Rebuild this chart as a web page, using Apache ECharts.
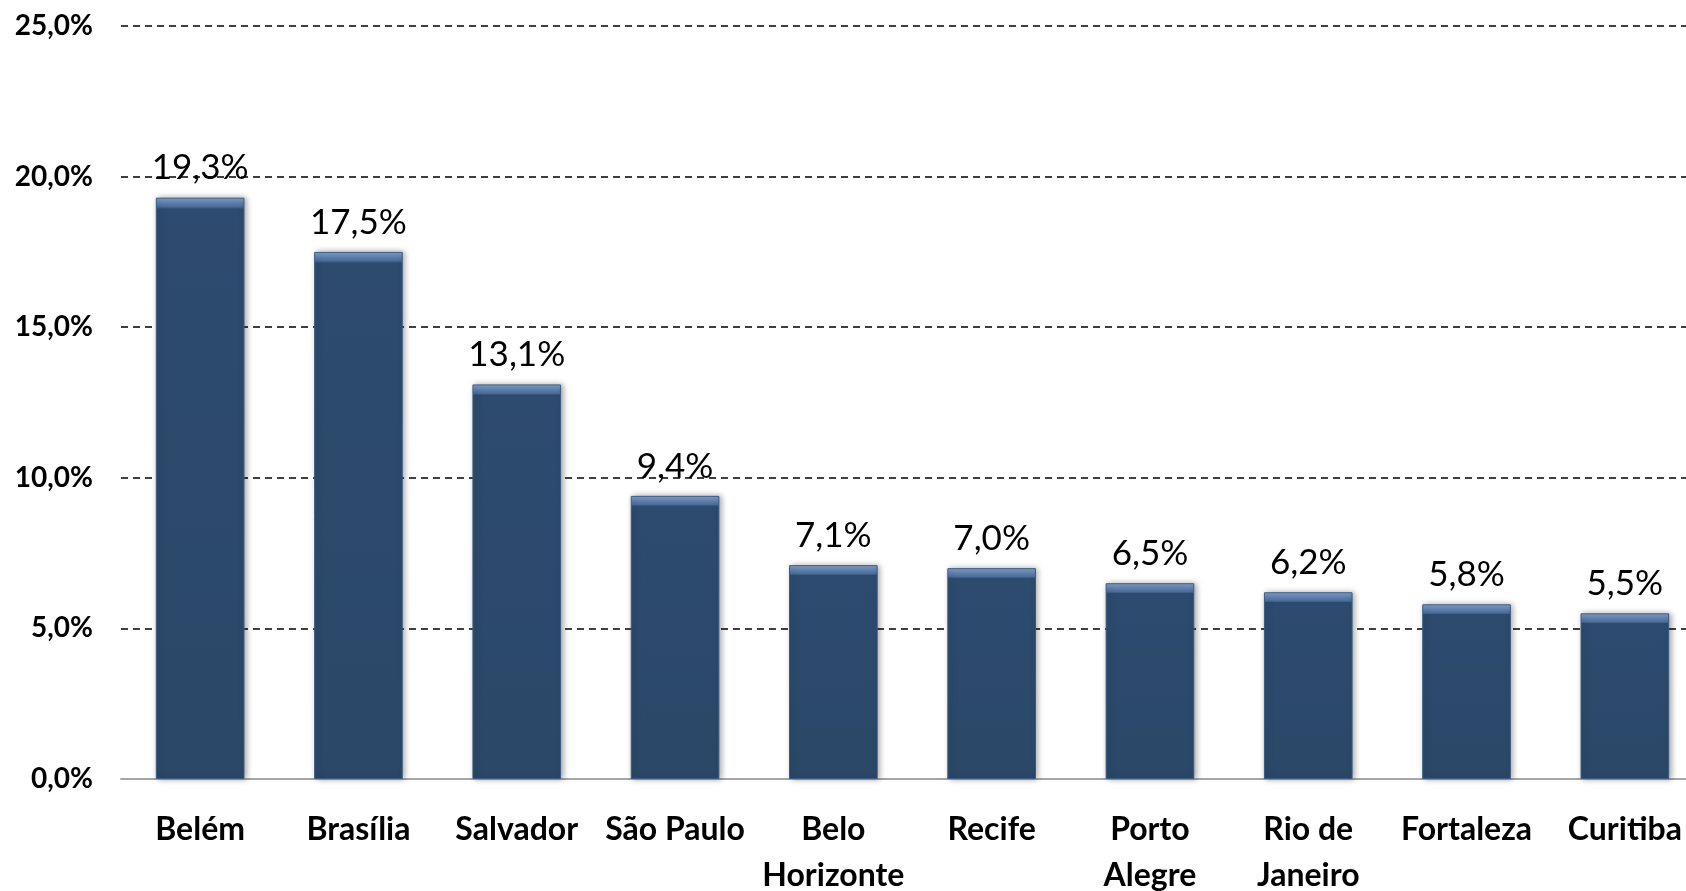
<!DOCTYPE html>
<html>
<head>
<meta charset="utf-8">
<title>Bar chart</title>
<script src="https://cdn.jsdelivr.net/npm/echarts@6/dist/echarts.min.js"></script>
<style>
html, body { margin: 0; padding: 0; background: #fff; }
#myChart { width: 1686px; height: 891px; }
</style>
</head>
<body>
<div id="myChart"></div>
<script>
var cities = ['Belém', 'Brasília', 'Salvador', 'São Paulo', 'Belo\nHorizonte', 'Recife', 'Porto\nAlegre', 'Rio de\nJaneiro', 'Fortaleza', 'Curitiba'];
var rates = [19.3, 17.5, 13.1, 9.4, 7.1, 7.0, 6.5, 6.2, 5.8, 5.5];
var yTicks = [0, 5, 10, 15, 20, 25];

function pct(v) {
    return v.toFixed(1).replace('.', ',') + '%';
}

// bevel look: lighter strip on top (about 9px), plain dark body below
function barStyle(v) {
    var top = Math.min(0.3, 0.3 / v);
    return {
        color: {
            type: 'linear', x: 0, y: 0, x2: 0, y2: 1,
            colorStops: [
                { offset: 0, color: '#86a3cb' },
                { offset: top * 0.6, color: '#5e7fad' },
                { offset: top, color: '#4a6a97' },
                { offset: top + 0.004, color: '#2d4b6f' },
                { offset: 1, color: '#2b4868' }
            ]
        },
        borderColor: '#3c5a82',
        borderWidth: 1,
        shadowColor: 'rgba(0,0,0,0.35)',
        shadowBlur: 6,
        shadowOffsetX: 2,
        shadowOffsetY: 0
    };
}

var dom = document.getElementById('myChart');
var myChart = echarts.init(dom);
var option = {
    animation: false,
    textStyle: { fontFamily: 'Lato' },
    grid: {
        top: 26,
        bottom: 112,
        left: 121,
        right: -18,
        containLabel: false,
        outerBoundsMode: 'none'
    },
    xAxis: {
        type: 'category',
        data: cities,
        axisLine: { lineStyle: { color: '#a6a6a6', width: 2 } },
        axisTick: { show: false },
        axisLabel: {
            interval: 0,
            margin: 28,
            fontSize: 32,
            fontWeight: 'bold',
            lineHeight: 46,
            color: '#000'
        }
    },
    yAxis: {
        type: 'value',
        min: yTicks[0],
        max: yTicks[yTicks.length - 1],
        interval: 5,
        axisLine: { show: false },
        axisTick: { show: false },
        axisLabel: {
            margin: 28,
            fontSize: 28,
            fontWeight: 'bold',
            color: '#000',
            formatter: function (v) { return pct(v); }
        },
        splitLine: {
            lineStyle: { type: [7, 5], color: '#000', width: 1.5 }
        }
    },
    series: [{
        type: 'bar',
        barCategoryGap: '44%',
        data: rates.map(function (v) {
            return { value: v, itemStyle: barStyle(v) };
        }),
        label: {
            show: true,
            position: 'top',
            distance: 12,
            fontSize: 35,
            color: '#000',
            formatter: function (p) { return pct(p.value); }
        }
    }]
};
myChart.setOption(option, true);
window.addEventListener('resize', function () {
    myChart.resize();
});
</script>
</body>
</html>
